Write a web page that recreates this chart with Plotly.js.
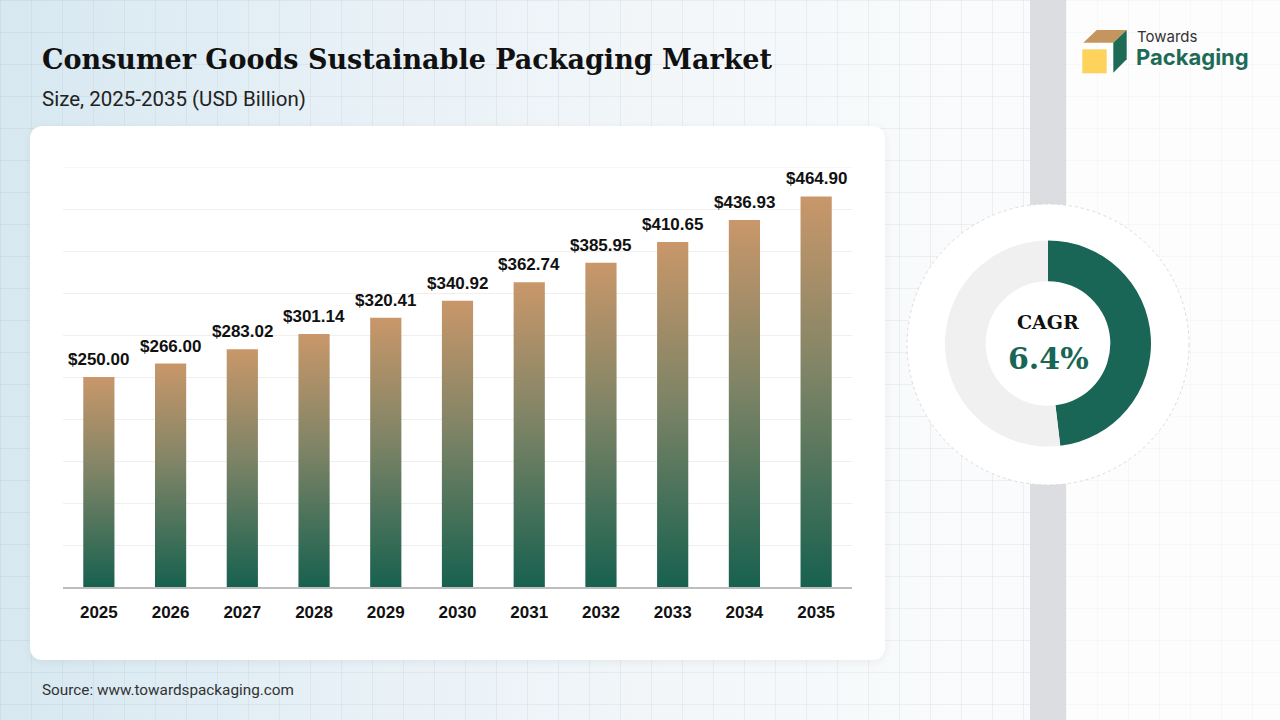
<!DOCTYPE html>
<html>
<head>
<meta charset="utf-8">
<script src="https://cdn.plot.ly/plotly-3.0.1.min.js"></script>
<style>
  html, body { margin:0; padding:0; width:1280px; height:720px; overflow:hidden; }
  #bg {
    position:absolute; left:0; top:0; width:1280px; height:720px;
    background:
      repeating-linear-gradient(to right, rgba(120,140,155,0.10) 0 1px, transparent 1px 31px),
      repeating-linear-gradient(to bottom, rgba(120,140,155,0.10) 0 1px, transparent 1px 32px),
      linear-gradient(to right, #d7e8f1 0%, #e6f0f6 25%, #f2f6f9 50%, #f9fbfc 75%, #fcfdfd 100%);
  }
  #band { position:absolute; left:1030px; top:0; width:36px; height:720px; background:#dcdde0; }
  #right { position:absolute; left:1066px; top:0; width:214px; height:720px;
    background:
      repeating-linear-gradient(to right, rgba(120,140,155,0.05) 0 1px, transparent 1px 31px),
      repeating-linear-gradient(to bottom, rgba(120,140,155,0.05) 0 1px, transparent 1px 32px),
      #fdfdfd; }
  #card { position:absolute; left:30px; top:126px; width:855px; height:534px; background:#fff;
    border-radius:12px; box-shadow:0 2px 10px rgba(0,0,0,0.06); }
  #chart { position:absolute; left:0; top:0; width:1280px; height:720px; }
</style>
</head>
<body>
<div id="bg"></div>
<div id="band"></div>
<div id="right"></div>
<div id="card"></div>
<div id="chart"></div>
<script>
const years = ['2025','2026','2027','2028','2029','2030','2031','2032','2033','2034','2035'];
const marketSize = [250.00, 266.00, 283.02, 301.14, 320.41, 340.92, 362.74, 385.95, 410.65, 436.93, 464.90];
const cagrLabel = 'CAGR';
const cagrValue = '6.4%';
const donutParts = ['CAGR', 'Rest'];
const donutShare = [48.1, 51.9];

const W = 1280, H = 720;
const px = x => x / W;
const py = y => 1 - y / H;

const barTrace = {
  type: 'bar',
  x: years,
  y: marketSize,
  marker: { color: '#7f8466', line: { width: 0 } },
  hoverinfo: 'skip',
  xaxis: 'x', yaxis: 'y'
};

const pieTrace = {
  type: 'pie',
  labels: donutParts,
  values: donutShare,
  hole: 0.605,
  sort: false,
  direction: 'clockwise',
  rotation: 0,
  textinfo: 'none',
  hoverinfo: 'skip',
  showlegend: false,
  marker: { colors: ['#1a6656', '#f0f0f0'], line: { width: 0 } },
  domain: { x: [px(1048 - 103), px(1048 + 103)], y: [py(343.5 + 103), py(343.5 - 103)] }
};

// category index i is the position of years[i] on the category axis
const barLabels = years.map((yr, i) => ({
  xref: 'x', yref: 'y', x: i, y: marketSize[i],
  xanchor: 'center', yanchor: 'bottom', yshift: 6, showarrow: false,
  text: '<b>$' + marketSize[i].toFixed(2) + '</b>',
  font: { family: 'Liberation Sans, Arial, sans-serif', size: 17, color: '#111111' }
}));

const layout = {
  width: W, height: H,
  margin: { l: 0, r: 0, t: 0, b: 0 },
  paper_bgcolor: 'rgba(0,0,0,0)',
  plot_bgcolor: 'rgba(0,0,0,0)',
  showlegend: false,
  bargap: 0.565,
  xaxis: {
    type: 'category',
    range: [-0.5, years.length - 0.5],
    domain: [px(63), px(852)],
    showline: true, linecolor: '#bdbdbd', linewidth: 2,
    ticks: 'outside', ticklen: 9, tickcolor: 'rgba(0,0,0,0)',
    tickfont: { family: 'Liberation Sans, Arial, sans-serif', size: 17, weight: 'bold', color: '#111111' },
    showgrid: false, fixedrange: true
  },
  yaxis: {
    domain: [py(587), py(167)],
    range: [0, 500], dtick: 50,
    showgrid: true, gridcolor: '#efefef', gridwidth: 1,
    zeroline: false, showticklabels: false, fixedrange: true
  },
  shapes: [
    { type: 'line', xref: 'x domain', yref: 'y', layer: 'below',
      x0: 0, x1: 1, y0: 500, y1: 500, line: { color: '#efefef', width: 1 } },
    { type: 'circle', xref: 'paper', yref: 'paper', layer: 'below',
      x0: px(907), x1: px(1189), y0: py(485), y1: py(204),
      fillcolor: '#ffffff', line: { color: '#dcdcdc', width: 1, dash: 'dot' } },
    // logo cube
    { type: 'path', xref: 'paper', yref: 'paper', layer: 'above',
      path: `M ${px(1083.3)} ${py(42.7)} L ${px(1096.7)} ${py(30)} L ${px(1126.7)} ${py(30)} L ${px(1113.3)} ${py(42.7)} Z`,
      fillcolor: '#c4955f', line: { width: 0 } },
    { type: 'path', xref: 'paper', yref: 'paper', layer: 'above',
      path: `M ${px(1113.3)} ${py(42.7)} L ${px(1126.7)} ${py(30)} L ${px(1126.7)} ${py(59.3)} L ${px(1113.3)} ${py(72.7)} Z`,
      fillcolor: '#1d6b56', line: { width: 0 } },
    { type: 'rect', xref: 'paper', yref: 'paper', layer: 'above',
      x0: px(1082.3), x1: px(1106.7), y0: py(73.3), y1: py(49.3),
      fillcolor: '#fdd35c', line: { width: 0 } }
  ],
  annotations: barLabels.concat([
    { xref: 'paper', yref: 'paper', x: px(40), y: py(59), xanchor: 'left', yanchor: 'middle', showarrow: false,
      text: '<b>Consumer Goods Sustainable Packaging Market</b>',
      font: { family: 'DejaVu Serif, serif', size: 27, color: '#111111' } },
    { xref: 'paper', yref: 'paper', x: px(40), y: py(99), xanchor: 'left', yanchor: 'middle', showarrow: false,
      text: 'Size, 2025-2035 (USD Billion)',
      font: { family: 'Roboto, sans-serif', size: 20.5, color: '#222222' } },
    { xref: 'paper', yref: 'paper', x: px(40), y: py(690), xanchor: 'left', yanchor: 'middle', showarrow: false,
      text: 'Source: www.towardspackaging.com',
      font: { family: 'Roboto, sans-serif', size: 15.3, color: '#333333' } },
    { xref: 'paper', yref: 'paper', x: px(1048), y: py(322), xanchor: 'center', yanchor: 'middle', showarrow: false,
      text: '<b>' + cagrLabel + '</b>',
      font: { family: 'DejaVu Serif, serif', size: 19, color: '#111111' } },
    { xref: 'paper', yref: 'paper', x: px(1048), y: py(358), xanchor: 'center', yanchor: 'middle', showarrow: false,
      text: '<b>' + cagrValue + '</b>',
      font: { family: 'DejaVu Serif, serif', size: 30, color: '#1a6656' } },
    { xref: 'paper', yref: 'paper', x: px(1135), y: py(36), xanchor: 'left', yanchor: 'middle', showarrow: false,
      text: 'Towards',
      font: { family: 'Inter, sans-serif', size: 15, color: '#333333' } },
    { xref: 'paper', yref: 'paper', x: px(1134), y: py(57), xanchor: 'left', yanchor: 'middle', showarrow: false,
      text: '<b>Packaging</b>',
      font: { family: 'Inter, sans-serif', size: 22, color: '#1d6b56' } }
  ])
};

Plotly.newPlot('chart', [barTrace, pieTrace], layout, { staticPlot: true, displayModeBar: false }).then(gd => {
  const svg = gd.querySelector('svg.main-svg');
  const ns = 'http://www.w3.org/2000/svg';
  let defs = svg.querySelector('defs');
  if (!defs) { defs = document.createElementNS(ns, 'defs'); svg.insertBefore(defs, svg.firstChild); }
  const grad = document.createElementNS(ns, 'linearGradient');
  grad.setAttribute('id', 'barGrad');
  grad.setAttribute('x1', '0'); grad.setAttribute('y1', '0');
  grad.setAttribute('x2', '0'); grad.setAttribute('y2', '1');
  [['0%', '#c9976a'], ['45%', '#7f8466'], ['100%', '#17614f']].forEach(([o, c]) => {
    const s = document.createElementNS(ns, 'stop');
    s.setAttribute('offset', o); s.setAttribute('stop-color', c);
    grad.appendChild(s);
  });
  defs.appendChild(grad);
  gd.querySelectorAll('g.trace.bars g.point path').forEach(p => { p.style.fill = 'url(#barGrad)'; });
});
</script>
</body>
</html>
